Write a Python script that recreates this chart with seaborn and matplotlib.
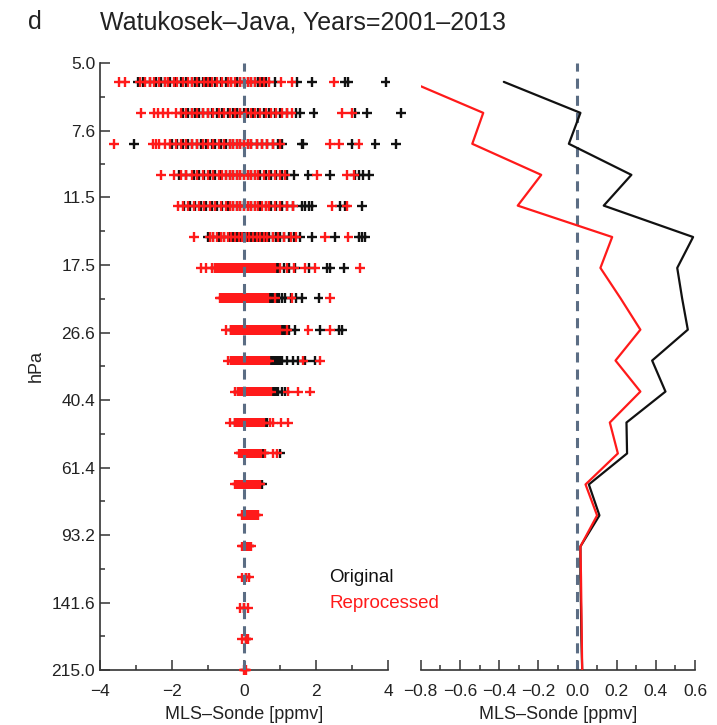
import numpy as np
import pandas as pd
import matplotlib
matplotlib.use("Agg")
import matplotlib.pyplot as plt
import seaborn as sns
from matplotlib.ticker import FixedLocator, FixedFormatter, NullFormatter, MultipleLocator, FuncFormatter

sns.set_theme(style="ticks")
plt.rcParams["font.family"] = ["Liberation Sans", "DejaVu Sans"]

# MLS pressure levels (hPa), top to bottom
levels = [5.62, 6.81, 8.25, 10.0, 12.1, 14.7, 17.8, 21.5, 26.1, 31.6,
          38.3, 46.4, 56.2, 68.1, 82.5, 100.0, 121.2, 146.8, 177.8, 215.4]

# individual MLS-Sonde differences (ppmv), one list per level
orig_diffs = [
    [-2.95, -2.8, -2.6, -2.45, -2.3, -2.2, -2.05, -1.9, -1.75, -1.6, -1.45, -1.35, -1.25, -1.15, -1.05,
     -0.95, -0.8, -0.65, -0.5, -0.35, -0.2, -0.1, 0.0, 0.1, 0.2, 0.3, 0.4, 0.5, 0.6, 0.85, 1.46, 1.88,
     2.8, 2.9, 3.93],
    [-1.7, -1.55, -1.45, -1.35, -1.25, -1.15, -1.0, -0.9, -0.75, -0.6, -0.45, -0.3, -0.2, -0.1, 0.0,
     0.1, 0.25, 0.4, 0.55, 0.7, 0.85, 1.0, 1.2, 1.45, 1.55, 1.93, 3.09, 3.42, 4.35],
    [-3.05, -2.0, -1.85, -1.7, -1.55, -1.45, -1.3, -1.2, -1.05, -0.9, -0.8, -0.65, -0.5, -0.4, -0.3,
     -0.2, -0.1, 0.0, 0.1, 0.2, 0.35, 0.5, 0.65, 0.8, 0.95, 1.05, 1.6, 1.65, 3.0, 3.65, 4.21],
    [-1.8, -1.6, -1.4, -1.25, -1.1, -0.95, -0.8, -0.65, -0.5, -0.4, -0.3, -0.2, -0.1, 0.0, 0.1, 0.2,
     0.3, 0.45, 0.6, 0.75, 0.9, 1.05, 1.2, 1.4, 1.79, 2.39, 3.09, 3.2, 3.3, 3.46],
    [-1.66, -1.5, -1.35, -1.2, -1.05, -0.9, -0.75, -0.6, -0.45, -0.3, -0.2, -0.1, 0.0, 0.1, 0.2, 0.3,
     0.45, 0.6, 0.75, 0.9, 1.05, 1.2, 1.37, 1.6, 1.7, 1.8, 1.88, 2.67, 2.8, 3.28],
    [-1.0, -0.85, -0.7, -0.55, -0.4, -0.3, -0.2, -0.1, 0.0, 0.1, 0.2, 0.3, 0.4, 0.5, 0.6, 0.7, 0.8,
     0.9, 1.0, 1.1, 1.25, 1.4, 1.55, 1.88, 2.53, 3.18, 3.28, 3.37],
    [-0.82, -0.65, -0.5, -0.35, -0.2, 0.0, 0.15, 0.3, 0.45, 0.5, 0.55, 0.6, 0.65, 0.7, 0.75, 0.8, 0.85,
     0.9, 0.95, 1.1, 1.25, 1.42, 1.8, 2.3, 2.4, 2.77],
    [-0.5, -0.3, -0.1, 0.1, 0.3, 0.5, 0.67, 0.72, 0.77, 0.82, 0.87, 0.92, 0.97, 1.05, 1.15, 1.3, 1.45,
     1.6, 2.07],
    [-0.35, -0.2, 0.0, 0.2, 0.4, 0.6, 0.8, 0.95, 1.0, 1.05, 1.1, 1.15, 1.2, 1.25, 1.42, 2.11, 2.63, 2.72],
    [-0.35, -0.2, 0.0, 0.2, 0.4, 0.6, 0.72, 0.76, 0.81, 0.86, 0.91, 0.95, 1.0, 1.05, 1.2, 1.35, 1.5,
     1.7, 1.97],
    [-0.17, 0.0, 0.2, 0.4, 0.6, 0.7, 0.75, 0.8, 0.86, 0.9, 0.95, 1.05, 1.14],
    [-0.26, -0.1, 0.1, 0.3, 0.5, 0.55, 0.6, 0.65],
    [-0.1, 0.1, 0.3, 0.47, 0.52, 0.55, 1.0],
    [-0.1, 0.1, 0.3, 0.45, 0.5],
    [0.05, 0.2, 0.3],
    [0.05, 0.15],
    [0.05],
    [0.0],
    [0.05],
    [0.02],
]
reproc_diffs = [
    [-3.47, -3.3, -2.9, -2.75, -2.6, -2.5, -2.35, -2.2, -2.1, -1.95, -1.85, -1.7, -1.55, -1.45, -1.3,
     -1.1, -1.0, -0.9, -0.75, -0.6, -0.45, -0.35, -0.25, -0.1, 0.0, 0.1, 0.2, 0.3, 0.45, 0.55, 0.7,
     1.04, 1.32, 2.49],
    [-2.87, -2.5, -2.4, -2.25, -2.1, -1.9, -1.75, -1.6, -1.45, -1.3, -1.15, -1.0, -0.85, -0.7, -0.55,
     -0.4, -0.25, -0.1, 0.05, 0.2, 0.3, 0.45, 0.6, 0.75, 0.9, 1.05, 1.2, 1.32, 2.72, 3.0],
    [-3.61, -2.54, -2.45, -2.35, -2.2, -2.05, -1.9, -1.75, -1.6, -1.45, -1.3, -1.15, -1.0, -0.85, -0.7,
     -0.55, -0.4, -0.3, -0.2, -0.1, 0.0, 0.1, 0.2, 0.35, 0.5, 0.65, 0.8, 1.0, 2.39, 2.63, 3.18],
    [-2.31, -1.94, -1.75, -1.6, -1.45, -1.3, -1.15, -1.0, -0.85, -0.7, -0.6, -0.5, -0.4, -0.3, -0.2,
     -0.1, 0.0, 0.1, 0.2, 0.3, 0.4, 0.55, 0.7, 0.85, 1.0, 1.15, 2.02, 2.86, 3.05],
    [-1.84, -1.7, -1.55, -1.4, -1.25, -1.1, -0.95, -0.8, -0.65, -0.5, -0.4, -0.3, -0.2, -0.1, 0.0, 0.1,
     0.2, 0.3, 0.4, 0.5, 0.6, 0.7, 0.85, 1.0, 1.2, 1.37, 2.44, 2.86],
    [-1.38, -0.95, -0.85, -0.75, -0.65, -0.55, -0.45, -0.35, -0.25, -0.15, -0.05, 0.05, 0.15, 0.25,
     0.35, 0.45, 0.55, 0.65, 0.8, 0.95, 1.1, 1.3, 1.45, 2.25, 2.9],
    [-1.19, -1.05, -0.9, -0.82, -0.75, -0.7, -0.65, -0.6, -0.55, -0.5, -0.45, -0.4, -0.35, -0.3, -0.25,
     -0.2, -0.15, -0.1, -0.05, 0.0, 0.05, 0.1, 0.15, 0.2, 0.25, 0.3, 0.35, 0.4, 0.45, 0.5, 0.55, 0.6,
     0.65, 0.7, 0.75, 0.8, 0.86, 1.0, 1.2, 1.4, 1.69, 1.97, 3.23],
    [-0.68, -0.63, -0.58, -0.53, -0.48, -0.43, -0.38, -0.33, -0.28, -0.23, -0.18, -0.13, -0.08, -0.03,
     0.02, 0.07, 0.12, 0.17, 0.22, 0.27, 0.32, 0.37, 0.42, 0.47, 0.52, 0.57, 0.62, 0.67, 0.85, 1.32, 2.39],
    [-0.49, -0.35, -0.3, -0.25, -0.2, -0.15, -0.1, -0.05, 0.0, 0.05, 0.1, 0.15, 0.2, 0.25, 0.3, 0.35,
     0.4, 0.45, 0.5, 0.55, 0.6, 0.65, 0.7, 0.75, 0.8, 0.85, 0.9, 0.95, 1.0, 1.2, 1.79, 2.39],
    [-0.45, -0.35, -0.3, -0.25, -0.2, -0.15, -0.1, -0.05, 0.0, 0.05, 0.1, 0.15, 0.2, 0.25, 0.3, 0.35,
     0.4, 0.45, 0.5, 0.55, 0.6, 0.65, 0.7, 1.65, 2.11],
    [-0.26, -0.17, -0.12, -0.07, -0.02, 0.03, 0.08, 0.13, 0.18, 0.23, 0.28, 0.33, 0.38, 0.43, 0.48,
     0.53, 0.58, 0.63, 0.68, 0.76, 1.23, 1.51, 1.83],
    [-0.4, -0.26, -0.21, -0.16, -0.11, -0.06, -0.01, 0.04, 0.09, 0.14, 0.19, 0.24, 0.29, 0.34, 0.39,
     0.44, 0.49, 0.55, 0.72, 0.81, 1.04, 1.23],
    [-0.13, -0.08, -0.03, 0.02, 0.07, 0.12, 0.17, 0.22, 0.27, 0.32, 0.37, 0.42, 0.47, 0.57, 0.8, 0.92],
    [-0.26, -0.21, -0.16, -0.11, -0.06, -0.01, 0.04, 0.09, 0.14, 0.19, 0.24, 0.29, 0.34, 0.39, 0.45],
    [-0.07, -0.02, 0.03, 0.08, 0.13, 0.18, 0.23, 0.28, 0.33, 0.39],
    [-0.07, -0.02, 0.03, 0.08, 0.13, 0.2],
    [-0.05, 0.05, 0.15],
    [-0.1, 0.0, 0.1],
    [-0.05, 0.05, 0.12],
    [0.0, 0.05],
]

# mean differences per level (ppmv)
orig_mean = [-0.376, 0.015, -0.044, 0.275, 0.134, 0.59, 0.509, 0.534, 0.563, 0.381,
             0.449, 0.25, 0.253, 0.058, 0.112, 0.015, 0.015, 0.018, 0.02, 0.024]
reproc_mean = [-0.852, -0.481, -0.537, -0.185, -0.305, 0.177, 0.117, 0.22, 0.321, 0.194,
               0.321, 0.165, 0.206, 0.041, 0.1, 0.015, 0.018, 0.02, 0.022, 0.024]

ytick_vals = [5.0, 7.6, 11.5, 17.5, 26.6, 40.4, 61.4, 93.2, 141.6, 215.0]
ytick_labels = ["5.0", "7.6", "11.5", "17.5", "26.6", "40.4", "61.4", "93.2", "141.6", "215.0"]

palette = {"Original": "#111111", "Reprocessed": "#ff1a1a"}
dash_col = "#5b6d84"

rows = []
for name, diffs in (("Original", orig_diffs), ("Reprocessed", reproc_diffs)):
    for p, vals in zip(levels, diffs):
        for v in vals:
            rows.append((name, p, v))
scatter_df = pd.DataFrame(rows, columns=["dataset", "pressure", "diff"])

mean_df = pd.DataFrame({
    "dataset": ["Original"] * len(levels) + ["Reprocessed"] * len(levels),
    "pressure": levels + levels,
    "diff": orig_mean + reproc_mean,
})

fig = plt.figure(figsize=(7.17, 7.25), dpi=100)
ax1 = fig.add_axes([0.1395, 0.0759, 0.4017, 0.8372])
ax2 = fig.add_axes([0.5868, 0.0759, 0.3826, 0.8372])

# left panel: individual differences
sns.scatterplot(data=scatter_df, x="diff", y="pressure", hue="dataset", palette=palette,
                marker="+", s=50, linewidth=1.7, legend=False, ax=ax1, clip_on=False, zorder=3)
ax1.axvline(0, color=dash_col, lw=2.2, dashes=(3.3, 2.3), zorder=4)

# right panel: mean profiles
ax2.axvline(0, color=dash_col, lw=2.2, dashes=(3.3, 2.3), zorder=1)
sns.lineplot(data=mean_df, x="diff", y="pressure", hue="dataset", palette=palette, sort=False,
             estimator=None, orient="y", lw=1.6, legend=False, ax=ax2, zorder=3)

minor_y = [np.sqrt(a * b) for a, b in zip(ytick_vals[:-1], ytick_vals[1:])]
for ax in (ax1, ax2):
    ax.set_yscale("log")
    ax.set_ylim(215.0, 5.0)
    ax.yaxis.set_major_locator(FixedLocator(ytick_vals))
    ax.yaxis.set_major_formatter(FixedFormatter(ytick_labels))
    ax.yaxis.set_minor_locator(FixedLocator(minor_y))
    ax.yaxis.set_minor_formatter(NullFormatter())
    ax.tick_params(which="both", direction="in", colors="#333333", labelcolor="#222222",
                   labelsize=12.5, width=1.1)
    ax.tick_params(which="major", length=7)
    ax.tick_params(which="minor", length=3.5)
    ax.tick_params(axis="x", which="both", pad=10)
    ax.set_xlabel("MLS\u2013Sonde [ppmv]", fontsize=13, color="#222222", labelpad=5)
    for sp in ax.spines.values():
        sp.set_color("#333333")
        sp.set_linewidth(1.2)

ax1.set_xlim(-4, 4)
ax1.set_xticks([-4, -2, 0, 2, 4])
ax1.xaxis.set_minor_locator(MultipleLocator(1))
ax1.set_ylabel("hPa", fontsize=13, color="#222222", labelpad=5)
sns.despine(ax=ax1)

ax2.set_xlim(-0.8, 0.6)
ax2.set_xticks([-0.8, -0.6, -0.4, -0.2, 0.0, 0.2, 0.4, 0.6])
ax2.xaxis.set_minor_locator(MultipleLocator(0.1))
ax2.xaxis.set_major_formatter(FuncFormatter(
    lambda v, pos: f"{0.0 if abs(v) < 1e-9 else v:.1f}".replace("-", "\u2212")))
ax2.set_ylabel("")
ax2.tick_params(axis="y", which="both", left=False, labelleft=False)
sns.despine(ax=ax2, left=True)

fig.text(0.039, 0.969, "d", fontsize=18, color="#222222", va="center", ha="left")
fig.text(0.1395, 0.969, "Watukosek\u2013Java, Years=2001\u20132013", fontsize=18,
         color="#222222", va="center", ha="left")
fig.text(0.459, 0.204, "Original", fontsize=13.5, color="#111111", va="center", ha="left")
fig.text(0.459, 0.168, "Reprocessed", fontsize=13.5, color="#ff1a1a", va="center", ha="left")

fig.savefig("out.png", dpi=100)
